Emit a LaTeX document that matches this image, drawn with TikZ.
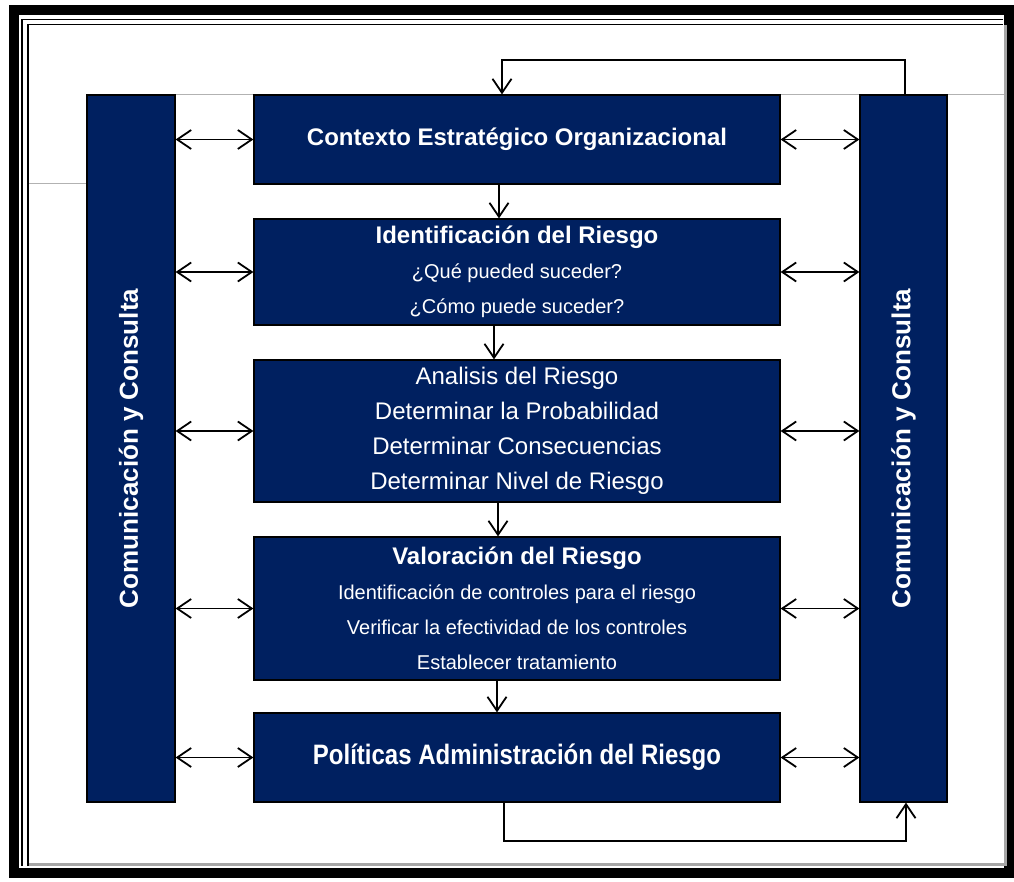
\documentclass[tikz,border=0pt]{standalone}
\usepackage{fontspec}
\setmainfont{Liberation Sans}
\usetikzlibrary{arrows.meta}
\definecolor{navy}{RGB}{0,32,96}

\begin{document}
\begin{tikzpicture}[x=1pt,y=-1pt,
	riskbox/.style={draw=black,line width=1.2pt,fill=navy,text=white,minimum width=526pt,inner sep=0pt,align=center,font=\fontsize{20}{35}\selectfont},
	sidebar/.style={draw=black,line width=1.2pt,fill=navy,text=white,minimum width=88pt,minimum height=707pt,inner sep=0pt,font=\fontsize{26}{30}\selectfont\bfseries},
	flow/.style={line width=1.8pt,-{Straight Barb[length=14pt,width=19pt]}},
	twoway/.style={line width=1.8pt,{Straight Barb[length=14pt,width=19pt]}-{Straight Barb[length=14pt,width=19pt]}}]
		\useasboundingbox (0,0) rectangle (1014,882);
		% frame
		\draw[line width=10pt] (14,10) rectangle (1009,873);
		\draw[line width=1.5pt] (22,866) -- (22,19.5) -- (1003,19.5);
		\draw[line width=1.5pt] (28,866) -- (28,24.5) -- (1003,24.5);
		\draw[black!35,line width=3pt] (29,864.5) -- (1005.5,864.5) -- (1005.5,25);
		\draw[black!30,line width=1pt] (175,95) -- (254,95) (780,95) -- (860,95) (947,95) -- (1004,95) (29,184) -- (87,184);
		% side bars
		\node[sidebar] (lbar) at (131,448.5) {\rotatebox{90}{Comunicación y Consulta}};
		\node[sidebar,minimum width=87pt] (rbar) at (903.5,448.5) {\rotatebox{90}{Comunicación y Consulta}};
		% boxes
		\node[riskbox,minimum height=89pt] (ctx) at (517,139.5)
			{\fontsize{24}{35}\selectfont\bfseries Contexto Estratégico Organizacional};
		\node[riskbox,minimum height=106pt] (ide) at (517,272)
			{{\fontsize{24}{35}\selectfont\bfseries Identificación del Riesgo}\\ ¿Qué pueded suceder?\\ ¿Cómo puede suceder?};
		\node[riskbox,minimum height=142pt,font=\fontsize{24}{35}\selectfont] (ana) at (517,431)
			{Analisis del Riesgo\\ Determinar la Probabilidad\\ Determinar Consecuencias\\ Determinar Nivel de Riesgo};
		\node[riskbox,minimum height=143pt] (val) at (517,608.5)
			{{\fontsize{24}{35}\selectfont\bfseries Valoración del Riesgo}\\ Identificación de controles para el riesgo\\ Verificar la efectividad de los controles\\ Establecer tratamiento};
		\node[riskbox,minimum height=89pt] (pol) at (517,757.5)
			{\scalebox{1}[1.17]{\fontsize{24}{35}\selectfont\bfseries Políticas Administración del Riesgo}};
		% arrows to the side bars
		\foreach \b in {ctx,ide,ana,val,pol}{
			\draw[twoway] (lbar.east |- \b.west) -- (\b.west);
			\draw[twoway] (\b.east) -- (rbar.west |- \b.east);
		}
		% arrows down
		\foreach \a/\b/\s in {ctx/ide/-18,ide/ana/-23,ana/val/-19,val/pol/-20}
			\draw[flow] ([xshift=\s pt]\a.south) -- ([xshift=\s pt]\b.north);
		% loops
		\coordinate (topturn) at (905,60);
		\coordinate (botturn) at (906,841);
		\draw[flow] (rbar.north -| topturn) -- (topturn) -| ([xshift=-15pt]ctx.north);
		\draw[flow] ([xshift=-13pt]pol.south) |- (botturn) -- (rbar.south -| botturn);
\end{tikzpicture}
\end{document}
